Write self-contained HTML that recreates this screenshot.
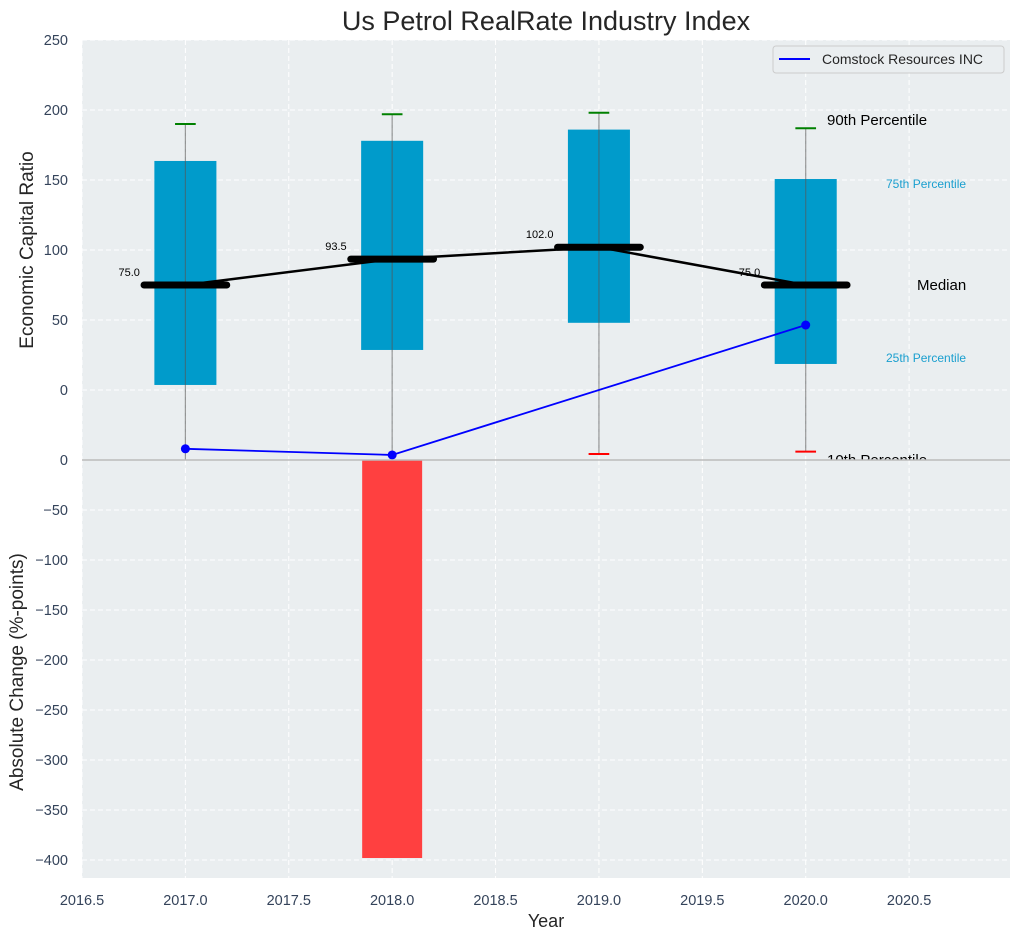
<!DOCTYPE html>
<html><head><meta charset="utf-8"><style>
body{margin:0;background:#fff;font-family:"Liberation Sans",sans-serif}
svg text{font-family:"Liberation Sans",sans-serif}
</style></head><body>
<svg id="c" width="1021" height="940" xmlns="http://www.w3.org/2000/svg"></svg>
<script>
const years=[2017,2018,2019,2020];
const p10=[-60,-60,-45.7,-44];
const p25=[3.6,28.6,48,18.6];
const medians=[75,93.5,102,75];
const p75=[163.6,178,186,150.7];
const p90=[190,197,198,187];
const companyYears=[2017,2018,2020];
const companyValues=[-42,-46.4,46.4];
const changeYears=[2018];
const changeValues=[-398];
const xTicks=[2016.5,2017,2017.5,2018,2018.5,2019,2019.5,2020,2020.5];
const topTicks=[-50,0,50,100,150,200,250];
const botTicks=[0,-50,-100,-150,-200,-250,-300,-350,-400];

const L=82,R=1010,T1=40,B1=460,T2=460,B2=878;
const X=v=>L+(v-2016.5)*(R-L)/(2020.988-2016.5);
const Y1=v=>B1-(v+50)*(B1-T1)/300;
const Y2=v=>T2-(v)*1.0;
const svg=document.getElementById('c');
const NS='http://www.w3.org/2000/svg';
function el(tag,attrs,parent,name){const e=document.createElementNS(NS,tag);for(const k in attrs)e.setAttribute(k,attrs[k]);


(parent||svg).appendChild(e);return e;}
function txt(s,attrs,name,parent){const t=el('text',attrs,parent,name);t.textContent=s;return t;}

const defs=el('defs',{},svg,'defs');
const cp=el('clipPath',{id:'clipTop'},defs,'clip-top');el('rect',{x:L,y:T1,width:R-L,height:B1-T1},cp,'clip-rect');
const cp2=el('clipPath',{id:'clipBot'},defs,'clip-bottom');el('rect',{x:L,y:T2,width:R-L,height:B2-T2},cp2,'clip-rect');

el('rect',{x:L,y:T1,width:R-L,height:B1-T1,fill:'#eaeef0'},svg,'top-plot-background');
const gTop=el('g',{'clip-path':'url(#clipTop)'},svg,'top-plot');
xTicks.forEach(v=>{el('line',{x1:X(v),x2:X(v),y1:T1,y2:B2,stroke:'#fff','stroke-dasharray':'5,3','stroke-width':1},gTop,'x-grid-line');});
topTicks.forEach(v=>{el('line',{x1:L,x2:R,y1:Y1(v),y2:Y1(v),stroke:'#fff','stroke-dasharray':'5,3','stroke-width':1},gTop,'y-grid-line');});
years.forEach((yr,i)=>{
  el('rect',{x:X(yr-0.15),y:Y1(p75[i]),width:X(yr+0.15)-X(yr-0.15),height:Y1(p25[i])-Y1(p75[i]),fill:'#009bcb'},gTop,'iqr-box-'+yr);
  el('line',{x1:X(yr),x2:X(yr),y1:Y1(p90[i]),y2:Y1(p10[i]),stroke:'#555','stroke-opacity':0.6,'stroke-width':1.2},gTop,'whisker-'+yr);
  el('line',{x1:X(yr-0.05),x2:X(yr+0.05),y1:Y1(p90[i]),y2:Y1(p90[i]),stroke:'green','stroke-width':2},gTop,'p90-cap-'+yr);
  el('line',{x1:X(yr-0.05),x2:X(yr+0.05),y1:Y1(p10[i]),y2:Y1(p10[i]),stroke:'red','stroke-width':2},gTop,'p10-cap-'+yr);
});
let d=medians.map((m,i)=>(i?'L':'M')+X(years[i])+','+Y1(m)).join(' ');
el('path',{d:d,fill:'none',stroke:'#000','stroke-width':2.5},gTop,'median-line');
years.forEach((yr,i)=>{
  el('line',{x1:X(yr-0.2),x2:X(yr+0.2),y1:Y1(medians[i]),y2:Y1(medians[i]),stroke:'#000','stroke-width':7,'stroke-linecap':'round'},gTop,'median-bar-'+yr);
  txt(medians[i].toFixed(1),{x:X(yr-0.22),y:Y1(medians[i])-9,'font-size':11,'text-anchor':'end',fill:'#000'},'median-label-'+yr,gTop);
});
let d2=companyValues.map((v,i)=>(i?'L':'M')+X(companyYears[i])+','+Y1(v)).join(' ');
el('path',{d:d2,fill:'none',stroke:'blue','stroke-width':1.8},gTop,'company-line');
companyValues.forEach((v,i)=>el('circle',{cx:X(companyYears[i]),cy:Y1(v),r:4.5,fill:'blue'},gTop,'company-point'));
txt('90th Percentile',{x:827,y:125,'font-size':15,fill:'#000'},'p90-annotation',gTop);
txt('75th Percentile',{x:886,y:188,'font-size':12,fill:'#1a9fcf'},'p75-annotation',gTop);
txt('Median',{x:917,y:290,'font-size':15,fill:'#000'},'median-annotation',gTop);
txt('25th Percentile',{x:886,y:362,'font-size':12,fill:'#1a9fcf'},'p25-annotation',gTop);
txt('10th Percentile',{x:827,y:465,'font-size':15,fill:'#000'},'p10-annotation',gTop);
el('rect',{x:773,y:46,width:231,height:27,rx:3,fill:'#eaeef0',stroke:'#ccc'},svg,'legend-box');
el('line',{x1:779,x2:810,y1:59,y2:59,stroke:'blue','stroke-width':2},svg,'legend-line');
txt('Comstock Resources INC',{x:822,y:64,'font-size':14,fill:'#262626'},'legend-entry');

el('rect',{x:L,y:T2,width:R-L,height:B2-T2,fill:'#eaeef0'},svg,'bottom-plot-background');
const gBot=el('g',{'clip-path':'url(#clipBot)'},svg,'bottom-plot');
xTicks.forEach(v=>{el('line',{x1:X(v),x2:X(v),y1:T2,y2:B2,stroke:'#fff','stroke-dasharray':'5,3','stroke-width':1},gBot,'x-grid-line');});
botTicks.forEach(v=>{el('line',{x1:L,x2:R,y1:Y2(v),y2:Y2(v),stroke:'#fff','stroke-dasharray':'5,3','stroke-width':1},gBot,'y-grid-line');});
changeYears.forEach((yr,i)=>{const v=changeValues[i];
  el('rect',{x:X(yr-0.145),y:Math.min(Y2(0),Y2(v)),width:X(yr+0.145)-X(yr-0.145),height:Math.abs(Y2(v)-Y2(0)),fill:'#ff4040'},gBot,'change-bar-'+yr);});
el('line',{x1:L,x2:R,y1:T2,y2:T2,stroke:'#bbb','stroke-width':1.5},svg,'zero-line');

topTicks.forEach(v=>{if(v===-50)return;txt(String(v),{x:L-14,y:Y1(v)+5,'font-size':14.5,'text-anchor':'end',fill:'#34435a'},'y-tick-label-top');});
botTicks.forEach(v=>txt(String(v).replace('-','\u2212'),{x:L-14,y:Y2(v)+5,'font-size':14.5,'text-anchor':'end',fill:'#34435a'},'y-tick-label-bottom'));
xTicks.forEach(v=>txt(v.toFixed(1),{x:X(v),y:905,'font-size':14.5,'text-anchor':'middle',fill:'#34435a'},'x-tick-label'));

txt('Us Petrol RealRate Industry Index',{x:546,y:30,'font-size':27,'text-anchor':'middle',fill:'#262626'},'chart-title');
txt('Year',{x:546,y:927,'font-size':18,'text-anchor':'middle',fill:'#262626'},'x-axis-title');
txt('Economic Capital Ratio',{x:33,y:250,'font-size':19,'text-anchor':'middle',fill:'#262626',transform:'rotate(-90 33 250)'},'y-axis-title-top');
txt('Absolute Change (%-points)',{x:23,y:672,'font-size':19,'text-anchor':'middle',fill:'#262626',transform:'rotate(-90 23 672)'},'y-axis-title-bottom');
</script>
</body></html>
